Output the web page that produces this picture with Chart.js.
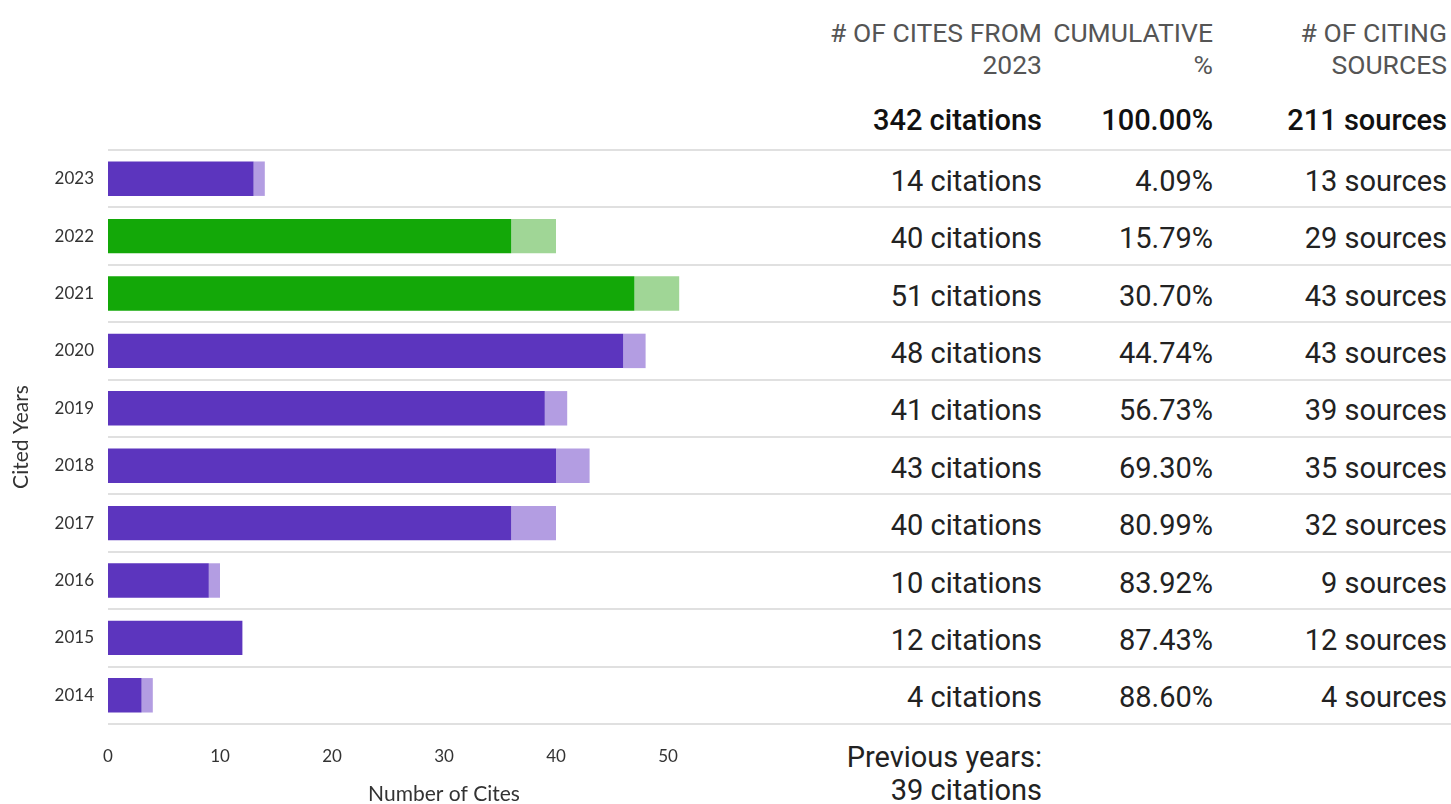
<!DOCTYPE html>
<html>
<head>
<meta charset="utf-8">
<script src="https://cdn.jsdelivr.net/npm/chart.js@4.4.1/dist/chart.umd.min.js"></script>
<style>
  html, body { margin: 0; padding: 0; background: #fff; }
  body { width: 1451px; height: 804px; position: relative; overflow: hidden; font-family: Roboto, sans-serif; }
  #chartBox { position: absolute; left: 0; top: 0; width: 780px; height: 804px; }
  .col { position: absolute; text-align: right; white-space: nowrap; }
  .hdr { color: #555; font-size: 26.5px; line-height: 32px; top: 17px; }
  .tot { color: #111; font-size: 29px; font-weight: 500; top: 101px; line-height: 38px; }
  .cell { color: #222; font-size: 29px; line-height: 38px; }
  .rule { position: absolute; left: 780px; width: 671px; height: 2px; background: #e3e3e3; }
  .prev { color: #222; font-size: 29px; line-height: 33px; top: 741px; }
</style>
</head>
<body>
<div id="chartBox"><canvas id="citesChart"></canvas></div>
<div id="table"></div>
<script>
const years = ["2023", "2022", "2021", "2020", "2019", "2018", "2017", "2016", "2015", "2014"];
const darkCites = [13, 36, 47, 46, 39, 40, 36, 9, 12, 3];
const lightCites = [1, 4, 4, 2, 2, 3, 4, 1, 0, 1];
const highlightYears = ["2022", "2021"];
const xTicks = [0, 10, 20, 30, 40, 50];

const citations = [14, 40, 51, 48, 41, 43, 40, 10, 12, 4];
const cumulative = ["4.09%", "15.79%", "30.70%", "44.74%", "56.73%", "69.30%", "80.99%", "83.92%", "87.43%", "88.60%"];
const sources = [13, 29, 43, 43, 39, 35, 32, 9, 12, 4];
const totalCitations = 342;
const totalCumulative = "100.00%";
const totalSources = 211;
const previousCitations = 39;

const purple = "#5c35be", purpleLight = "#b39de2";
const green = "#13a808", greenLight = "#a0d696";
const isHi = (y) => highlightYears.includes(y);

new Chart(document.getElementById("citesChart"), {
  type: "bar",
  data: {
    labels: years,
    datasets: [
      {
        data: darkCites,
        backgroundColor: years.map((y) => (isHi(y) ? green : purple)),
        barPercentage: 0.6,
        categoryPercentage: 1,
      },
      {
        data: lightCites,
        backgroundColor: years.map((y) => (isHi(y) ? greenLight : purpleLight)),
        barPercentage: 0.6,
        categoryPercentage: 1,
      },
    ],
  },
  options: {
    indexAxis: "y",
    responsive: true,
    maintainAspectRatio: false,
    animation: false,
    layout: { padding: { top: 150, right: 0, left: 0, bottom: 0 } },
    plugins: { legend: { display: false }, tooltip: { enabled: false } },
    scales: {
      x: {
        stacked: true,
        min: 0,
        max: 60,
        afterBuildTicks: (s) => { s.ticks = xTicks.concat([60]).map((v) => ({ value: v })); },
        afterFit: (s) => {
          s.height = 80;
          s.paddingLeft = 0;
          s.paddingRight = 0;
        },
        grid: { display: false, drawTicks: false },
        border: { display: false },
        ticks: {
          padding: 22,
          color: "#333",
          font: { family: "Lato", size: 17 },
          callback: (v) => (xTicks.includes(v) ? v : ""),
        },
        title: {
          display: true,
          text: "Number of Cites",
          color: "#333",
          font: { family: "Lato", size: 21 },
          padding: { top: 0, bottom: -3 },
        },
      },
      y: {
        stacked: true,
        afterFit: (s) => { s.width = 108; },
        grid: { color: "#e0e0e0", lineWidth: 2, drawTicks: false, offset: true },
        border: { display: false },
        ticks: { padding: 14, color: "#333", font: { family: "Lato", size: 17 } },
        title: {
          display: true,
          text: "Cited Years",
          color: "#333",
          font: { family: "Lato", size: 21 },
          padding: { top: 9, bottom: 0 },
        },
      },
    },
  },
});

// ---- table on the right ----
const table = document.getElementById("table");
const rowTop = 150, rowH = 57.4;
const colRight = [1451 - 1042, 1451 - 1213, 1451 - 1447];

function addCol(cls, right, top, html) {
  const d = document.createElement("div");
  d.className = "col " + cls;
  d.style.right = right + "px";
  if (top !== null) d.style.top = top + "px";
  d.innerHTML = html;
  table.appendChild(d);
}

addCol("hdr", colRight[0], null, "# OF CITES FROM<br>2023");
addCol("hdr", colRight[1], null, "CUMULATIVE<br>%");
addCol("hdr", colRight[2], null, "# OF CITING<br>SOURCES");
addCol("tot", colRight[0], null, totalCitations + " citations");
addCol("tot", colRight[1], null, totalCumulative);
addCol("tot", colRight[2], null, totalSources + " sources");

for (let i = 0; i <= years.length; i++) {
  const r = document.createElement("div");
  r.className = "rule";
  r.style.top = Math.round(rowTop + i * rowH - 1) + "px";
  table.appendChild(r);
}
years.forEach((y, i) => {
  const top = rowTop + i * rowH + rowH / 2 - 17;
  addCol("cell", colRight[0], top, citations[i] + " citations");
  addCol("cell", colRight[1], top, cumulative[i]);
  addCol("cell", colRight[2], top, sources[i] + " sources");
});
addCol("prev", colRight[0], null, "Previous years:<br>" + previousCitations + " citations");
</script>
</body>
</html>
